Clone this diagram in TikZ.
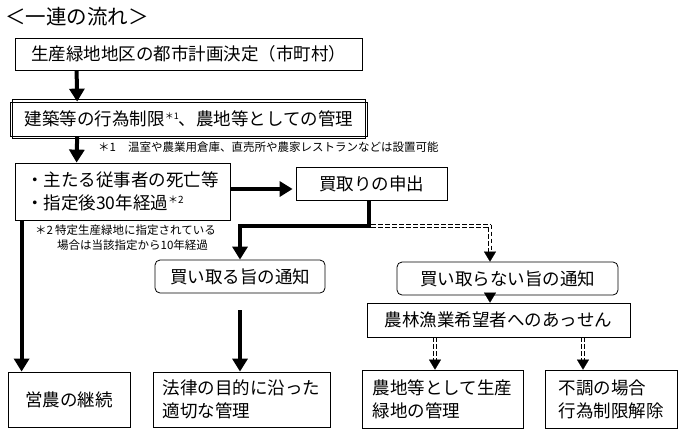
\documentclass[tikz,border=0pt]{standalone}
\usepackage{fontspec}
\setmainfont{Noto Sans CJK JP}
\usetikzlibrary{arrows.meta}

\begin{document}
\begin{tikzpicture}[x=1pt,y=-1pt,
    box/.style={draw,line width=0.8pt,inner sep=0pt,font=\fontsize{17.5}{23}\selectfont},
    rbox/.style={box,rounded corners=5pt},
    note/.style={inner sep=0pt,anchor=west,align=left,font=\fontsize{11.5}{15}\selectfont},
    flow/.style={line width=4pt,-{Triangle[length=13pt,width=15pt]}},
    dashln/.style={line width=0.7pt,dash pattern=on 4.5pt off 2.5pt},
    tip/.style={line width=0.1pt,-{Triangle[length=10pt,width=12pt]}}]
            \useasboundingbox (0,0) rectangle (700,432);

            \node[font=\fontsize{20.5}{22}\selectfont] (title) at (77,17) {＜一連の流れ＞};

            \node[box,minimum width=347,minimum height=32] (plan) at (188.5,54) {生産緑地地区の都市計画決定（市町村）};
            \node[box,line width=0.7pt,minimum width=357,minimum height=34] (limit) at (189,119)
                {建築等の行為制限\raisebox{6pt}{\fontsize{9}{9}\selectfont ＊1}、農地等としての管理};
            \draw[line width=0.7pt] ([shift={(2.3,-2.3)}]limit.north west) rectangle ([shift={(-2.3,2.3)}]limit.south east);
            \node[note] (note1) at (98,147) {\makebox[30pt][l]{＊1}温室や農業用倉庫、直売所や農家レストランなどは設置可能};

            \node[box,align=left,minimum width=215,minimum height=57] (cond) at (122.5,191.5)
                {・主たる従事者の死亡等\\・指定後30年経過\raisebox{6pt}{\fontsize{10}{10}\selectfont ＊2}};
            \node[box,minimum width=151,minimum height=33] (apply) at (371.5,183.5) {買取りの申出};
            \node[note] (note2) at (35,238)
                {\makebox[20pt][l]{＊2}特定生産緑地に指定されている\\\hspace{22pt}場合は当該指定から10年経過};

            \node[rbox,minimum width=170,minimum height=33] (buy) at (240,276.5) {買い取る旨の通知};
            \node[rbox,minimum width=221,minimum height=33] (nobuy) at (507.5,278.5) {買い取らない旨の通知};
            \node[box,minimum width=263,minimum height=34] (assen) at (498.5,320) {農林漁業希望者へのあっせん};

            \node[box,minimum width=122,minimum height=55] (cont) at (69,399.5) {営農の継続};
            \node[box,align=left,minimum width=177,minimum height=55] (law) at (241.5,399.5) {法律の目的に沿った\\適切な管理};
            \node[box,align=left,minimum width=161,minimum height=58] (farm) at (442.5,399) {農地等として生産\\緑地の管理};
            \node[box,align=left,minimum width=132,minimum height=58] (fail) at (611,399) {不調の場合\\行為制限解除};

            \coordinate (split) at (369,226);
            \coordinate (nbin) at ([xshift=-17.5]nobuy.north);
            \coordinate (fmin) at ([xshift=-7.5]farm.north);
            \coordinate (flin) at ([xshift=-28]fail.north);

            \draw[flow] ([xshift=62]plan.south west) -- ([xshift=67]limit.north west);
            \draw[flow] ([xshift=67]limit.south west) -- ([xshift=62]cond.north west);
            \draw[flow] ([yshift=2.5]cond.east) -- ([yshift=2.5,xshift=-3]cond.east -| apply.west);
            \draw[flow] ([xshift=7]cond.south west) -- ([xshift=14]cont.north west);
            \draw[flow] ([xshift=-2.5]apply.south) -- (split) -| (buy.north);
            \draw[flow] ([yshift=-17]buy.south) -- (buy.south |- law.north);

            % dashed double connectors
            \foreach \s in {-1.3,1.3} {
                \draw[dashln] ([xshift=2,yshift=\s]split) -- ([xshift=\s,yshift=\s]split -| nbin);
                \draw[dashln] ([xshift=\s,yshift=\s]split -| nbin) -- ([xshift=\s,yshift=10]nbin);
                \draw[dashln] ([xshift=\s]nobuy.south -| nbin) -- ([xshift=\s,yshift=-3]nobuy.south -| nbin);
                \draw[dashln] ([xshift=\s]fmin |- assen.south) -- ([xshift=\s,yshift=10]fmin);
                \draw[dashln] ([xshift=\s]flin |- assen.south) -- ([xshift=\s,yshift=10]flin);
            }
            \draw[tip] ([yshift=10]nbin) -- (nbin);
            \draw[tip] ([yshift=-2]nobuy.south -| nbin) -- (assen.north -| nbin);
            \draw[tip] ([yshift=10]fmin) -- (fmin);
            \draw[tip] ([yshift=10]flin) -- (flin);

        \end{tikzpicture}
\end{document}
